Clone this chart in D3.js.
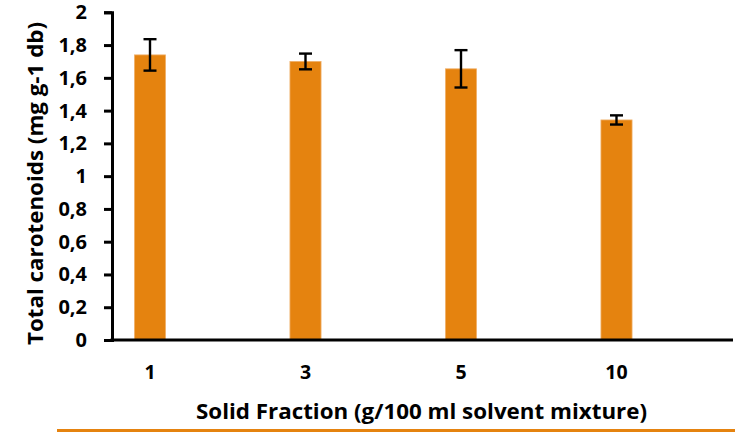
<!DOCTYPE html>
<html>
<head>
<meta charset="utf-8">
<script src="https://cdn.jsdelivr.net/npm/d3@7"></script>
<style>
  body { margin: 0; background: #fff; }
  text { font-family: "Open Sans", Lato, sans-serif; font-weight: bold; fill: #000; }
</style>
</head>
<body>
<div class="chart"></div>
<script>
const categories = ['1', '3', '5', '10'];
const values = [1.74, 1.70, 1.655, 1.343];
const errors = [0.096, 0.048, 0.114, 0.028];
const yTicks = [0, 0.2, 0.4, 0.6, 0.8, 1, 1.2, 1.4, 1.6, 1.8, 2];

const width = 735, height = 432;
const orange = '#e5830f';

const svg = d3.select('.chart')
  .append('svg')
  .attr('width', width)
  .attr('height', height);

const y = d3.scaleLinear().domain([0, 2]).range([340, 12.3]);
const x = d3.scaleBand()
  .domain(categories)
  .range([72.25, 694.25])
  .paddingInner(0.8)
  .paddingOuter(0.4);

// bars
svg.selectAll('rect.bar')
  .data(values)
  .enter()
  .append('rect')
  .attr('class', 'bar')
  .attr('x', (d, i) => x(categories[i]))
  .attr('width', x.bandwidth())
  .attr('y', d => y(d))
  .attr('height', d => y(0) - y(d))
  .attr('fill', orange)
  .attr('stroke', '#efb06a')
  .attr('stroke-width', 0.8);

// error bars
const err = svg.selectAll('g.err')
  .data(values)
  .enter()
  .append('g')
  .attr('class', 'err')
  .attr('stroke', '#000')
  .attr('stroke-width', 2.4);

const cx = i => x(categories[i]) + x.bandwidth() / 2;

err.append('line')
  .attr('x1', (d, i) => cx(i))
  .attr('x2', (d, i) => cx(i))
  .attr('y1', (d, i) => y(d + errors[i]))
  .attr('y2', (d, i) => y(d - errors[i]));
err.append('line')
  .attr('x1', (d, i) => cx(i) - 6.5)
  .attr('x2', (d, i) => cx(i) + 6.5)
  .attr('y1', (d, i) => y(d + errors[i]))
  .attr('y2', (d, i) => y(d + errors[i]));
err.append('line')
  .attr('x1', (d, i) => cx(i) - 6.5)
  .attr('x2', (d, i) => cx(i) + 6.5)
  .attr('y1', (d, i) => y(d - errors[i]))
  .attr('y2', (d, i) => y(d - errors[i]));

// y axis
const yAxis = svg.append('g')
  .attr('transform', 'translate(112,0)')
  .call(d3.axisLeft(y)
    .tickValues(yTicks)
    .tickSize(8)
    .tickPadding(17)
    .tickFormat(d => String(d).replace('.', ',')));
yAxis.select('.domain').attr('stroke', '#000').attr('stroke-width', 3);
yAxis.selectAll('.tick line').attr('stroke', '#000').attr('stroke-width', 3);
yAxis.selectAll('text')
  .attr('font-size', 20)
  .attr('font-family', '"Open Sans", sans-serif')
  .attr('font-weight', 'bold');

// x axis
const xAxis = svg.append('g')
  .attr('transform', 'translate(0,340)')
  .call(d3.axisBottom(x).tickSize(0).tickPadding(24).tickSizeOuter(0));
xAxis.select('.domain').attr('d', 'M110.5,0H733').attr('stroke', '#000').attr('stroke-width', 3);
xAxis.selectAll('text')
  .attr('y', 39)
  .attr('dy', 0)
  .attr('font-size', 19.5)
  .attr('font-family', '"Open Sans", sans-serif')
  .attr('font-weight', 'bold');

// titles
svg.append('text')
  .attr('x', 421.5)
  .attr('y', 418.5)
  .attr('text-anchor', 'middle')
  .attr('font-size', 21)
  .attr('textLength', 451)
  .attr('lengthAdjust', 'spacingAndGlyphs')
  .text('Solid Fraction (g/100 ml solvent mixture)');

svg.append('text')
  .attr('transform', 'translate(36,183.5) rotate(-90)')
  .attr('text-anchor', 'middle')
  .attr('dy', '0.35em')
  .attr('font-size', 21)
  .attr('textLength', 323)
  .attr('lengthAdjust', 'spacingAndGlyphs')
  .text('Total carotenoids (mg g-1 db)');

// bottom rule
svg.append('line')
  .attr('x1', 57)
  .attr('x2', 735)
  .attr('y1', 430.5)
  .attr('y2', 430.5)
  .attr('stroke', orange)
  .attr('stroke-width', 3);
</script>
</body>
</html>
